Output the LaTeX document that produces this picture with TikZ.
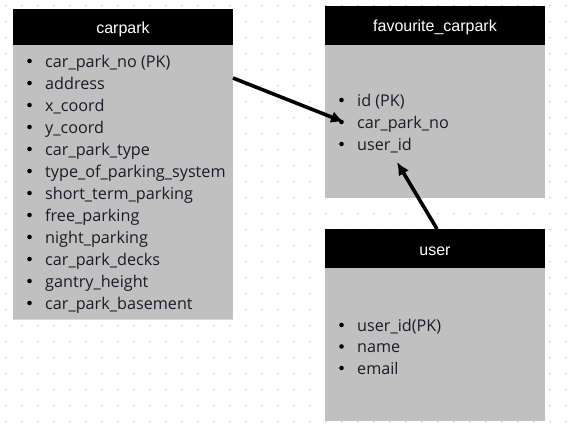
\documentclass[tikz,border=0pt]{standalone}
\usepackage{fontspec}
\setmainfont{Open Sans}
\newfontfamily\titlefont{Liberation Sans}
\usetikzlibrary{arrows.meta}
\definecolor{bodygray}{RGB}{192,192,192}
\definecolor{edgegray}{RGB}{215,215,215}
\definecolor{dotgray}{RGB}{200,200,208}
\definecolor{txt}{RGB}{30,25,40}
\tikzset{
  hdr/.style={fill=black,draw=none},
  title/.style={anchor=base,text=white,font=\titlefont\fontsize{16}{18}\selectfont,inner sep=0pt},
  item/.style={anchor=base west,text=txt,font=\fontsize{16.2}{18}\selectfont,inner sep=0pt},
  conn/.style={line width=3.6pt,-{Latex[length=13pt,width=12pt]}},
}
\begin{document}
\begin{tikzpicture}[x=1pt,y=-1pt]
\useasboundingbox (0,0) rectangle (580,436);
% dot grid
\foreach \i in {0,...,35}{\foreach \j in {0,...,26}{
  \fill[dotgray] (6+16*\i,5.5+16*\j) circle (0.9);}}
% carpark
\fill[bodygray] (13,45) rectangle (233,319);
\draw[edgegray,line width=0.8pt] (13,319) -- (233,319);
\node[hdr,minimum width=220pt,minimum height=36pt,anchor=north west] (carpark) at (13,9) {};
\node[title] (carparkT) at (123,34) {carpark};
\foreach \t [count=\k] in {car\_park\_no (PK),address,x\_coord,y\_coord,car\_park\_type,type\_of\_parking\_system,short\_term\_parking,free\_parking,night\_parking,car\_park\_decks,gantry\_height,car\_park\_basement}{
  \fill[black] (29.5,39+22*\k) circle (2.3);
  \node[item] (c\k) at (45,45+22*\k) {\t};
}
% favourite_carpark
\fill[bodygray] (325,45) rectangle (545,198);
\node[hdr,minimum width=220pt,minimum height=39pt,anchor=north west] (fav) at (325,6) {};
\node[title] (favT) at (435,32) {favourite\_carpark};
\foreach \t [count=\k] in {id (PK),car\_park\_no,user\_id}{
  \fill[black] (341.5,78+22*\k) circle (2.3);
  \node[item] (f\k) at (357,84+22*\k) {\t};
}
% user
\fill[bodygray] (325,268) rectangle (545,421);
\node[hdr,minimum width=220pt,minimum height=39pt,anchor=north west] (user) at (325,229) {};
\node[title] (userT) at (435,255.5) {user};
\foreach \t/\y [count=\k] in {user\_id(PK)/325,name/346.5,email/368}{
  \fill[black] (341.5,\y) circle (2.3);
  \node[item] (u\k) at (357,\y+6) {\t};
}
% connectors
\coordinate (a1s) at (233,78);
\coordinate (a1e) at (344,122);
\coordinate (a2s) at (437,229);
\coordinate (a2e) at (397,162);
\draw[conn] (a1s) -- (a1e);
\draw[conn] (a2s) -- (a2e);
\end{tikzpicture}
\end{document}
